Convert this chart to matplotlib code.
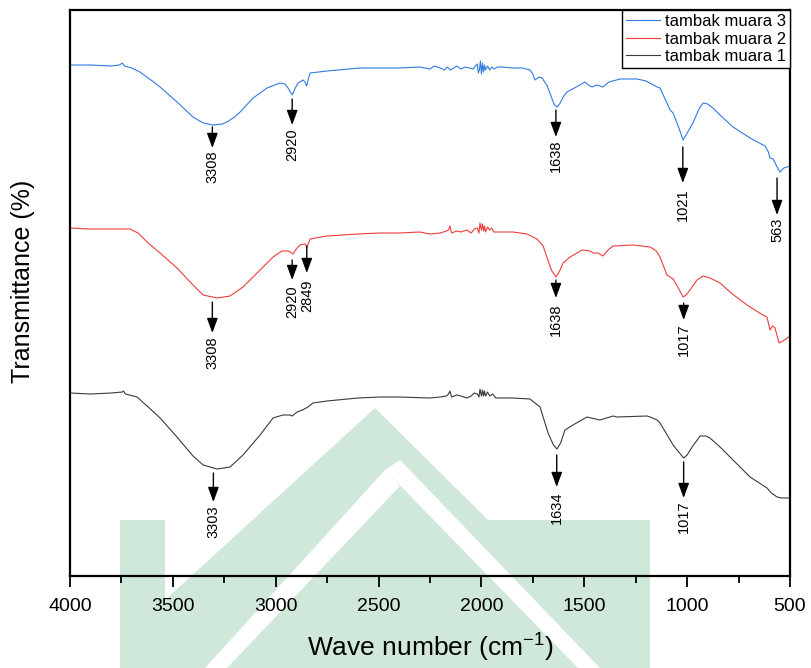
import matplotlib
matplotlib.use('Agg')
import matplotlib.pyplot as plt
import numpy as np
from matplotlib.patches import Polygon

plt.rcParams['font.family'] = ['Liberation Sans', 'DejaVu Sans']
plt.rcParams['mathtext.default'] = 'regular'

# FTIR spectra, offset transmittance (arbitrary units)
wn3 = [4000, 3900, 3800, 3760, 3745, 3735, 3700, 3660, 3600, 3562, 3480, 3402, 3353, 3305, 3260,
       3237, 3200, 3173, 3110, 3042, 2979, 2955, 2940, 2920, 2905, 2891, 2867, 2858, 2850, 2840,
       2833, 2751, 2590, 2493, 2400, 2300, 2250, 2230, 2200, 2180, 2167, 2150, 2120, 2100, 2080,
       2060, 2040, 2030, 2020, 2015, 2010, 2005, 2000, 1995, 1990, 1985, 1980, 1970, 1960, 1950,
       1940, 1920, 1900, 1850, 1800, 1764, 1750, 1740, 1720, 1705,
       1680, 1660, 1645, 1633, 1620, 1600, 1584, 1521, 1497, 1480, 1462, 1440, 1424, 1409, 1380,
       1326, 1243, 1200, 1146, 1132, 1098, 1083, 1068, 1040, 1020, 1000, 972, 940, 922, 900,
       875, 830, 777, 694, 640, 621, 605, 597, 582, 565, 549, 530, 500]
tr3 = [511, 511, 510, 511, 513, 510, 508, 504, 495, 489, 474, 459, 453, 451, 452,
       454, 459, 464, 478, 488, 493, 492, 488, 481, 488, 493, 496, 494, 490, 498,
       503, 505, 508, 508, 508, 509, 507, 510, 508, 506, 509, 506, 510, 507, 509,
       508, 507, 510, 512, 503, 506, 515, 502, 513, 504, 511, 506, 510, 506, 509,
       507, 509, 509, 508, 508, 506, 502, 496, 499, 498,
       490, 479, 471, 469, 472, 480, 484, 491, 494, 491, 489, 491, 490, 489, 494,
       497, 497, 495, 489, 488, 473, 466, 463, 448, 436, 443, 453, 468, 473, 472,
       468, 459, 449, 438, 432, 430, 424, 418, 417, 410, 404, 408, 410]

wn2 = [4000, 3900, 3800, 3708, 3690, 3669, 3620, 3562, 3480, 3402, 3353, 3285, 3222, 3159, 3076,
       3013, 2970, 2940, 2930, 2916, 2900, 2882, 2857, 2848, 2840, 2833, 2751, 2600, 2493, 2400,
       2300, 2250, 2200, 2170, 2160, 2153, 2145, 2120, 2100, 2070, 2050, 2035, 2020, 2012, 2007,
       2000, 1995, 1990, 1985, 1980, 1970, 1960, 1950, 1940, 1900,
       1846, 1778, 1730, 1700, 1682, 1660, 1638, 1620, 1603, 1569, 1511, 1472, 1457, 1433, 1409,
       1385, 1360, 1263, 1180, 1150, 1132, 1098, 1068, 1040, 1020, 1005, 986, 952, 922, 889,
       840, 780, 709, 640, 612, 597, 585, 573, 553, 534, 500]
tr2 = [348, 347, 347, 347, 345, 343, 333, 323, 308, 291, 281, 278, 280, 289, 306,
       319, 325, 325, 324, 322, 327, 331, 332, 329, 333, 337, 340, 342, 343, 343,
       344, 342, 343, 345, 346, 350, 343, 345, 344, 346, 343, 347, 348, 343, 353,
       346, 352, 345, 350, 344, 349, 346, 348, 344, 344,
       344, 342, 337, 330, 319, 306, 299, 305, 313, 319, 326, 325, 323, 323, 320,
       326, 330, 331, 329, 325, 319, 301, 297, 287, 279, 281, 286, 296, 300, 298,
       293, 282, 271, 262, 259, 246, 250, 248, 233, 235, 240]

wn1 = [4000, 3900, 3800, 3745, 3740, 3730, 3674, 3620, 3562, 3480, 3402, 3353, 3285, 3222, 3159,
       3076, 3013, 2965, 2930, 2920, 2896, 2870, 2843, 2819, 2751, 2600, 2493, 2400, 2250, 2200,
       2170, 2160, 2153, 2145, 2120, 2100, 2070, 2050, 2035, 2020, 2012, 2007, 2000, 1995, 1990,
       1985, 1980, 1970, 1960, 1945, 1930, 1850, 1764, 1715,
       1676, 1650, 1633, 1615, 1594, 1555, 1487, 1424, 1360, 1341, 1195, 1180, 1146, 1132, 1068,
       1049, 1017, 1000, 976, 937, 910, 889, 840, 777, 694, 612, 590, 563, 540, 500]
tr1 = [183, 182, 183, 184, 185, 182, 179, 169, 158, 139, 120, 111, 107, 109, 121,
       141, 158, 161, 161, 160, 164, 166, 169, 173, 175, 178, 179, 179, 178, 179,
       180, 182, 185, 179, 181, 180, 178, 180, 183, 182, 179, 187, 180, 186, 180,
       185, 180, 184, 180, 182, 178, 178, 177, 169,
       143, 131, 127, 133, 146, 151, 159, 156, 160, 159, 160, 159, 156, 153, 131,
       126, 118, 121, 129, 140, 140, 138, 129, 116, 99, 88, 83, 79, 78, 78]

series_names = ['tambak muara 3', 'tambak muara 2', 'tambak muara 1']
series_colors = ['#2f7be0', '#f03c3c', '#3a3a3a']

# peak markers: wavenumber, arrow start, arrow end, label top (same units as spectra)
peaks3 = [3308, 2920, 1638, 1021, 563]
arr3_start = [449, 477, 466, 429, 398]
arr3_end = [428, 451, 439, 393, 361]
lab3_top = [426, 448, 436, 388, 358]

peaks2 = [3308, 2920, 2849, 1638, 1017]
arr2_start = [274, 316, 330, 296, 273]
arr2_end = [243, 296, 303, 278, 256]
lab2_top = [240, 291, 296, 273, 253]

peaks1 = [3303, 1634, 1017]
arr1_start = [103, 121, 114]
arr1_end = [74, 89, 78]
lab1_top = [71, 84, 76]

fig = plt.figure(figsize=(8.11, 6.68), dpi=100)

# faint green watermark in the background
bg = fig.add_axes([0, 0, 1, 1], zorder=-1)
bg.set_xlim(0, 811)
bg.set_ylim(668, 0)
bg.axis('off')
wm_green = '#d0e8da'
wm_shapes = [
    [(120, 520), (165, 520), (165, 668), (120, 668)],
    [(165, 600), (375, 408), (488, 520), (650, 520), (650, 668), (165, 668)],
]
wm_gaps = [
    [(205, 668), (385, 470), (400, 486), (227, 668)],
    [(385, 470), (400, 460), (600, 668), (578, 668)],
]
for pts in wm_shapes:
    bg.add_patch(Polygon(pts, closed=True, facecolor=wm_green, edgecolor='none'))
for pts in wm_gaps:
    bg.add_patch(Polygon(pts, closed=True, facecolor='white', edgecolor='none'))

ax = fig.add_axes([70/811, 92/668, 720/811, 566/668])
ax.set_facecolor('none')

for wn, tr, name, c in zip([wn3, wn2, wn1], [tr3, tr2, tr1], series_names, series_colors):
    ax.plot(wn, tr, color=c, lw=0.8, label=name)

arrow_style = dict(arrowstyle='-|>,head_length=0.6,head_width=0.22', color='black',
                   lw=1, mutation_scale=15, shrinkA=0, shrinkB=0)
for peaks, a0, a1, lt in [(peaks3, arr3_start, arr3_end, lab3_top),
                          (peaks2, arr2_start, arr2_end, lab2_top),
                          (peaks1, arr1_start, arr1_end, lab1_top)]:
    for p, s, e, t in zip(peaks, a0, a1, lt):
        ax.annotate('', xy=(p, e), xytext=(p, s), arrowprops=arrow_style)
        ax.text(p, t, str(p), rotation=90, ha='center', va='top', fontsize=10.5)

ax.set_xlim(4000, 500)
ax.set_ylim(0, 566)
ax.set_xticks(np.arange(4000, 499, -500))
ax.set_xticks(np.arange(3750, 500, -500), minor=True)
ax.tick_params(axis='x', which='major', direction='out', length=8, width=1.3,
               labelsize=14, pad=8)
ax.tick_params(axis='x', which='minor', direction='out', length=5, width=1.3)
ax.set_yticks([])
for sp in ax.spines.values():
    sp.set_linewidth(1.6)

ax.set_xlabel('Wave number (cm$^{-1}$)', fontsize=19, labelpad=12)
ax.set_ylabel('Transmittance (%)', fontsize=18)
ax.yaxis.set_label_coords(-0.049, 0.52)

leg = ax.legend(loc='upper right', borderaxespad=0, fontsize=12, handlelength=2.0,
                labelspacing=0.15, handletextpad=0.3, borderpad=0.25, fancybox=False,
                framealpha=1, edgecolor='black')
leg.get_frame().set_linewidth(1.0)

fig.savefig('out.png', dpi=100)
